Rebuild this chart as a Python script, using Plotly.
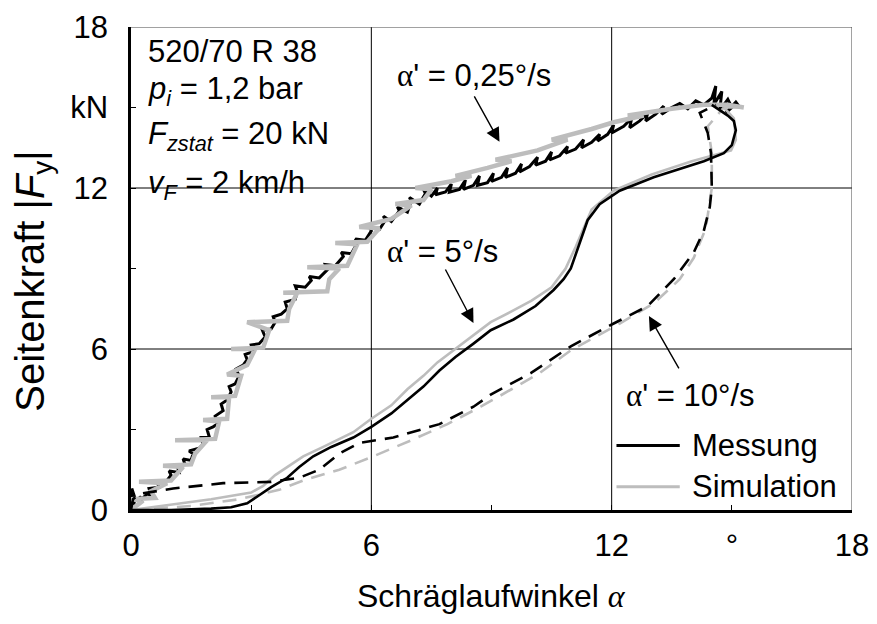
import plotly.graph_objects as go

# --- Messung / Simulation, Schräglaufwinkel alpha [°] vs. Seitenkraft |Fy| [kN] ---

# alpha' = 0,25 °/s, (alpha, Fy) pairs
mess_025 = [(0, 0), (0.03, 0.6), (0.08, 0.2), (0.02, 0.8), (0.12, 0.35), (0.25, 0.5), (0.2, 0.3),
            (0.4, 0.6), (0.5, 0.55), (0.45, 0.8), (0.7, 0.85), (0.65, 1.05), (0.9, 1.1), (1.0, 1.3),
            (0.95, 1.45), (1.2, 1.4), (1.15, 1.65), (1.35, 1.7), (1.3, 1.9), (1.5, 1.85), (1.55, 2.1),
            (1.45, 2.2), (1.7, 2.3), (1.8, 2.45), (1.75, 2.7), (1.95, 2.75), (1.9, 3.0), (2.05, 3.1),
            (2.15, 3.2), (2.1, 3.5), (2.3, 3.7), (2.25, 3.95), (2.4, 4.1), (2.5, 4.4), (2.45, 4.6),
            (2.6, 4.7), (2.7, 5.0), (2.62, 5.25), (2.8, 5.4), (2.9, 5.6), (2.85, 5.8), (3.05, 5.9),
            (3.0, 6.15), (3.2, 6.2), (3.35, 6.45), (3.28, 6.7), (3.5, 6.75), (3.6, 7.0), (3.55, 7.2),
            (3.75, 7.3), (3.9, 7.5), (3.85, 7.75), (4.1, 7.85), (4.15, 8.15), (4.1, 8.35), (4.35, 8.3),
            (4.5, 8.55), (4.45, 8.7), (4.7, 8.65), (4.9, 8.95), (4.85, 9.15), (5.1, 9.1), (5.3, 9.45),
            (5.25, 9.6), (5.5, 9.55), (5.65, 9.95), (5.6, 10.1), (5.85, 10.05), (6.0, 10.4),
            (5.95, 10.55), (6.2, 10.45), (6.35, 10.8), (6.3, 10.95), (6.5, 10.75), (6.7, 11.15),
            (6.65, 11.3), (6.9, 11.1), (7.0, 11.5), (6.95, 11.65), (7.2, 11.4), (7.35, 11.8),
            (7.3, 11.95), (7.5, 11.7), (7.65, 12.0), (7.6, 11.75), (7.85, 11.85), (8.0, 12.15),
            (7.95, 11.85), (8.2, 11.95), (8.35, 12.3), (8.3, 11.95), (8.55, 12.1), (8.7, 12.45),
            (8.65, 12.1), (8.9, 12.2), (9.05, 12.55), (9.0, 12.25), (9.25, 12.4), (9.4, 12.75),
            (9.35, 12.4), (9.6, 12.55), (9.75, 12.9), (9.7, 12.6), (9.95, 12.8), (10.15, 13.15),
            (10.1, 12.85), (10.35, 13.0), (10.5, 13.35), (10.45, 13.05), (10.7, 13.2), (10.9, 13.55),
            (10.85, 13.3), (11.1, 13.45), (11.3, 13.8), (11.25, 13.5), (11.5, 13.7), (11.7, 14.0),
            (11.65, 13.75), (11.9, 14.0), (12.05, 14.35), (12.0, 14.05), (12.3, 14.3), (12.5, 14.6),
            (12.45, 14.25), (12.7, 14.5), (12.9, 14.8), (12.85, 14.5), (13.1, 14.75), (13.3, 15.05),
            (13.25, 14.75), (13.5, 15.0), (13.7, 15.15), (13.9, 14.95), (14.1, 15.25), (14.3, 15.1),
            (14.5, 15.35), (14.6, 15.8), (14.55, 15.1), (14.75, 15.6), (14.7, 14.9), (14.9, 15.3),
            (15.0, 15.0), (14.85, 14.8), (15.1, 15.2), (15.2, 15.0)]

sim_025 = [(0, 0), (0.3, 0.35), (0.0, 0.4), (0.6, 0.45), (0.5, 0.7), (0.9, 1.0), (0.2, 1.05),
           (1.0, 1.1), (1.3, 1.6), (0.8, 1.65), (1.5, 1.7), (1.6, 2.1), (1.9, 2.6), (1.1, 2.6),
           (2.1, 2.65), (2.2, 3.3), (1.8, 3.35), (2.4, 3.4), (2.45, 4.2), (2.0, 4.2), (2.6, 4.25),
           (2.75, 5.0), (2.4, 5.05), (2.9, 5.4), (3.1, 6.0), (2.5, 6.0), (3.3, 6.05), (3.45, 6.7),
           (2.9, 7.0), (3.9, 7.05), (3.95, 7.5), (4.15, 8.1), (3.8, 8.1), (4.9, 8.15), (4.95, 8.6),
           (5.2, 9.0), (4.4, 9.05), (5.4, 9.1), (5.65, 9.9), (5.1, 9.95), (5.9, 10.0), (6.2, 10.5),
           (5.7, 10.55), (6.5, 10.85), (7.0, 11.35), (6.6, 11.4), (7.3, 11.55), (7.5, 11.95),
           (7.1, 12.0), (8.0, 12.25), (8.5, 12.45), (8.1, 12.45), (8.9, 12.75), (9.5, 13.0),
           (9.1, 13.05), (10.15, 13.4), (10.9, 13.8), (10.5, 13.8), (11.5, 14.2), (12.05, 14.45),
           (12.8, 14.7), (12.4, 14.7), (13.5, 14.95), (14.3, 15.1), (14.9, 15.1), (15.3, 15.0)]

# alpha' = 5 °/s
mess_5_x = [0.0, 1.0, 2.0, 2.5, 2.9, 3.15, 3.5, 3.9, 4.2, 4.55, 5.0, 5.55, 6.0, 6.5, 6.9, 7.3, 7.7,
            8.1, 8.55, 8.98, 9.55, 10.1, 10.55, 10.8, 10.98, 11.15, 11.4, 11.7, 12.2, 13.05, 13.7,
            14.3, 14.8, 15.0, 15.1, 15.05, 14.9, 14.6, 14.5]
mess_5_y = [0.0, 0.0, 0.05, 0.1, 0.25, 0.5, 0.85, 1.2, 1.6, 2.0, 2.35, 2.7, 3.1, 3.6, 4.1, 4.6, 5.2,
            5.7, 6.2, 6.7, 7.1, 7.6, 8.2, 8.6, 9.0, 9.7, 10.8, 11.4, 11.9, 12.4, 12.7, 13.0, 13.3,
            13.6, 14.15, 14.5, 14.7, 15.0, 15.1]

sim_5_x = [0.0, 1.0, 2.0, 3.0, 3.3, 3.6, 4.3, 4.8, 5.55, 6.0, 6.5, 6.9, 7.3, 7.65, 8.1, 8.55, 8.98,
           9.5, 10.0, 10.5, 10.85, 11.1, 11.3, 11.5, 12.05, 13.0, 14.0, 14.98, 15.1, 15.05, 14.8, 15.2]
sim_5_y = [0.0, 0.2, 0.4, 0.65, 0.9, 1.3, 2.0, 2.35, 2.9, 3.4, 3.9, 4.5, 5.0, 5.5, 6.0, 6.5, 7.0,
           7.4, 7.8, 8.3, 9.0, 9.8, 10.5, 11.2, 11.9, 12.5, 13.0, 13.4, 13.8, 14.6, 15.0, 15.0]

# alpha' = 10 °/s
mess_10_x = [0.0, 0.05, 0.2, 1.05, 2.3, 3.5, 4.2, 4.7, 5.2, 5.7, 6.55, 7.7, 8.55, 8.98, 9.98, 10.98,
             12.05, 12.9, 13.55, 14.05, 14.3, 14.45, 14.5, 14.48, 14.4, 14.2, 14.6]
mess_10_y = [0.0, 0.4, 0.6, 0.8, 1.0, 1.05, 1.2, 1.5, 2.1, 2.5, 2.7, 3.2, 3.85, 4.3, 5.1, 6.1, 6.95,
             7.6, 8.6, 9.6, 10.4, 11.3, 12.0, 13.3, 14.05, 14.8, 15.1]

sim_10_x = [0.0, 1.5, 2.7, 3.7, 4.3, 5.2, 6.05, 7.0, 7.9, 8.73, 9.5, 10.2, 10.98, 12.2, 13.05, 13.7,
            14.05, 14.35, 14.5, 14.5, 14.4, 14.8]
sim_10_y = [0.0, 0.15, 0.4, 0.75, 1.1, 1.5, 2.0, 2.6, 3.2, 3.85, 4.5, 5.1, 5.95, 6.95, 7.7, 8.6,
            9.4, 10.5, 12.0, 13.3, 14.3, 15.0]

# axis ticks
x_tickvals = [0, 3, 6, 9, 12, 15, 18]
x_ticktext = ["0", "", "6", "", "12", "°", "18"]
y_tickvals = [0, 3, 6, 9, 12, 15, 18]
y_ticktext = ["0", "", "6", "", "12", "kN", "18"]

BLACK = "#000000"
GRAY = "#bdbdbd"
FONT = "Liberation Sans, Arial, sans-serif"
FS = 31

fig = go.Figure()


def add_line(x, y, color, width, dash="solid"):
    fig.add_trace(go.Scatter(x=list(x), y=list(y), mode="lines", showlegend=False,
                             line=dict(color=color, width=width, dash=dash),
                             hoverinfo="skip"))


m025_x, m025_y = zip(*mess_025)
s025_x, s025_y = zip(*sim_025)

add_line(m025_x, m025_y, BLACK, 3.0)
add_line(s025_x, s025_y, GRAY, 4.5)
add_line(sim_10_x, sim_10_y, GRAY, 2.6, "14px,9px")
add_line(sim_5_x, sim_5_y, GRAY, 2.6)
add_line(mess_10_x, mess_10_y, BLACK, 2.6, "14px,9px")
add_line(mess_5_x, mess_5_y, BLACK, 2.6)

shapes = []
# grid lines at 6 and 12
for v in (6, 12):
    shapes.append(dict(type="line", xref="x", yref="y", x0=v, x1=v, y0=0, y1=18,
                       line=dict(color=BLACK, width=1), layer="below"))
    shapes.append(dict(type="line", xref="x", yref="y", x0=0, x1=18, y0=v, y1=v,
                       line=dict(color=BLACK, width=1), layer="below"))
# thin top and right frame
shapes.append(dict(type="line", xref="x", yref="y", x0=0, x1=18, y0=18, y1=18,
                   line=dict(color="#444444", width=1)))
shapes.append(dict(type="line", xref="x", yref="y", x0=18, x1=18, y0=0, y1=18,
                   line=dict(color="#444444", width=1)))
# legend samples
shapes.append(dict(type="line", xref="x", yref="y", x0=12.12, x1=13.7, y0=2.4, y1=2.4,
                   line=dict(color=BLACK, width=3)))
shapes.append(dict(type="line", xref="x", yref="y", x0=12.12, x1=13.7, y0=0.87, y1=0.87,
                   line=dict(color=GRAY, width=3)))

annotations = []


def text(x, y, s, xanchor="left"):
    annotations.append(dict(x=x, y=y, xref="x", yref="y", text=s, showarrow=False,
                            xanchor=xanchor, yanchor="middle",
                            font=dict(family=FONT, size=FS, color=BLACK)))


def arrow(x0, y0, x1, y1):
    annotations.append(dict(x=x1, y=y1, ax=x0, ay=y0, xref="x", yref="y", axref="x", ayref="y",
                            text="", showarrow=True, arrowhead=2, arrowsize=2.0,
                            arrowwidth=1.4, arrowcolor=BLACK, standoff=0))


alpha = '<span style="font-family:Liberation Serif">α</span>'

text(0.38, 17.1, "520/70 R 38")
text(0.38, 15.6, "<i>p<sub>i</sub></i> = 1,2 bar")
text(0.38, 13.95, "<i>F<sub>zstat</sub></i> = 20 kN")
text(0.38, 12.1, "<i>v<sub>F</sub></i> = 2 km/h")

text(6.6, 16.2, alpha + "' = 0,25°/s")
arrow(8.55, 15.47, 9.2, 13.72)
text(6.35, 9.65, alpha + "' = 5°/s")
arrow(7.83, 9.02, 8.55, 6.97)
text(12.3, 4.25, alpha + "' = 10°/s")
arrow(13.7, 5.22, 12.93, 7.23)

text(13.95, 2.4, "Messung")
text(13.95, 0.87, "Simulation")

# axis titles
annotations.append(dict(x=0.5, y=-0.178, xref="paper", yref="paper", showarrow=False,
                        xanchor="center", yanchor="middle",
                        text="Schräglaufwinkel <i>" + alpha + "</i>",
                        font=dict(family=FONT, size=32, color=BLACK)))
annotations.append(dict(x=-0.137, y=0.475, xref="paper", yref="paper", showarrow=False,
                        xanchor="center", yanchor="middle", textangle=-90,
                        text="Seitenkraft |<i>F</i><sub>y</sub>|",
                        font=dict(family=FONT, size=40, color=BLACK)))

fig.update_layout(
    width=877, height=624,
    margin=dict(l=131, r=25, t=27, b=114),
    paper_bgcolor="white", plot_bgcolor="white",
    font=dict(family=FONT, size=FS, color=BLACK),
    shapes=shapes, annotations=annotations,
    xaxis=dict(range=[0, 18], tickvals=x_tickvals, ticktext=x_ticktext, ticks="inside",
               ticklen=5, tickwidth=1, tickcolor=BLACK, showgrid=False, zeroline=False,
               showline=True, linewidth=3, linecolor=BLACK, automargin=False,
               tickfont=dict(size=FS), ticklabelstandoff=6),
    yaxis=dict(range=[0, 18], tickvals=y_tickvals, ticktext=y_ticktext, ticks="inside",
               ticklen=5, tickwidth=1, tickcolor=BLACK, showgrid=False, zeroline=False,
               showline=True, linewidth=2.5, linecolor=BLACK, automargin=False,
               tickfont=dict(size=FS), ticklabelstandoff=14),
)

fig.write_html("out.html")
